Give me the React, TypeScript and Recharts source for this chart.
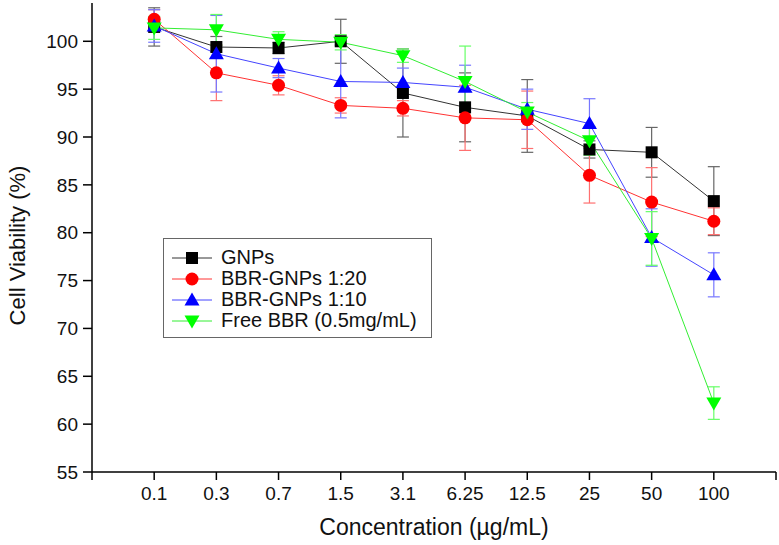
import { LineChart, Line, XAxis, YAxis, ErrorBar, Legend, Label } from "recharts"

// concentration groups (µg/mL), plotted at evenly spaced positions 1..10
const CONCENTRATIONS = ["0.1", "0.3", "0.7", "1.5", "3.1", "6.25", "12.5", "25", "50", "100"]

// mean cell viability (%) and standard deviation per group
const GNPS = [101.5, 99.4, 99.3, 100.0, 94.6, 93.1, 92.2, 88.7, 88.4, 83.3]
const GNPS_SD = [2.0, 1.1, 0.6, 2.3, 4.6, 3.6, 3.8, 0.9, 2.6, 3.6]

const BBR_20 = [102.3, 96.7, 95.4, 93.3, 93.0, 92.0, 91.8, 86.0, 83.2, 81.2]
const BBR_20_SD = [1.0, 2.9, 1.0, 0.8, 0.8, 3.4, 3.0, 2.9, 3.6, 1.4]

const BBR_10 = [101.6, 98.7, 97.2, 95.8, 95.7, 95.2, 92.9, 91.4, 79.5, 75.6]
const BBR_10_SD = [1.7, 4.0, 1.0, 3.8, 1.5, 2.3, 2.1, 2.6, 3.0, 2.3]

const FREE_BBR = [101.4, 101.2, 100.2, 99.9, 98.5, 95.8, 92.6, 89.6, 79.4, 62.2]
const FREE_BBR_SD = [1.2, 1.6, 0.8, 0.8, 0.7, 3.7, 1.0, 1.5, 2.8, 1.7]

const Y_TICKS = [55, 60, 65, 70, 75, 80, 85, 90, 95, 100]
const X_TICKS = [0, 1, 2, 3, 4, 5, 6, 7, 8, 9, 10, 11]

const FONT = "'Liberation Sans', Arial, Helvetica, sans-serif"

type Shape = "square" | "circle" | "up" | "down"

const SERIES: {
  key: string
  name: string
  fill: string
  line: string
  err: string
  shape: Shape
}[] = [
  { key: "gnps", name: "GNPs", fill: "#000000", line: "#333333", err: "#666666", shape: "square" },
  { key: "bbr20", name: "BBR-GNPs 1:20", fill: "#ff0000", line: "#ff3333", err: "#ff7070", shape: "circle" },
  { key: "bbr10", name: "BBR-GNPs 1:10", fill: "#0000ff", line: "#4444ff", err: "#7777ff", shape: "up" },
  { key: "free", name: "Free BBR (0.5mg/mL)", fill: "#00ff00", line: "#33ee33", err: "#66ff66", shape: "down" },
]

const data = CONCENTRATIONS.map((_, i) => ({
  x: i + 1,
  gnps: GNPS[i],
  gnpsSd: GNPS_SD[i],
  bbr20: BBR_20[i],
  bbr20Sd: BBR_20_SD[i],
  bbr10: BBR_10[i],
  bbr10Sd: BBR_10_SD[i],
  free: FREE_BBR[i],
  freeSd: FREE_BBR_SD[i],
}))

function Marker({ shape, cx, cy, fill }: { shape: Shape; cx: number; cy: number; fill: string }) {
  if (cx == null || cy == null) return null
  switch (shape) {
    case "square":
      return <rect x={cx - 6} y={cy - 6} width={12} height={12} fill={fill} />
    case "circle":
      return <circle cx={cx} cy={cy} r={6.5} fill={fill} />
    case "up":
      return <polygon points={`${cx},${cy - 7.5} ${cx + 7.5},${cy + 5.5} ${cx - 7.5},${cy + 5.5}`} fill={fill} />
    default:
      return <polygon points={`${cx},${cy + 7.5} ${cx + 7.5},${cy - 5.5} ${cx - 7.5},${cy - 5.5}`} fill={fill} />
  }
}

function LegendBox() {
  return (
    <div
      style={{
        border: "1px solid #666",
        background: "#fff",
        padding: "8px 14px 6px 8px",
        fontFamily: FONT,
        fontSize: 20,
        color: "#111",
      }}
    >
      {SERIES.map((s) => (
        <div key={s.key} style={{ display: "flex", alignItems: "center", height: 21 }}>
          <svg width={44} height={20} style={{ marginRight: 5 }}>
            <line x1={0} y1={10} x2={40} y2={10} stroke={s.line} strokeWidth={1} />
            <Marker shape={s.shape} cx={20} cy={10} fill={s.fill} />
          </svg>
          <span>{s.name}</span>
        </div>
      ))}
    </div>
  )
}

export default function App() {
  const tickStyle = { fontSize: 19, fill: "#111", fontFamily: FONT }

  return (
    <div style={{ position: "absolute", left: 0, top: 0, width: 779, height: 545, background: "#fff" }}>
      <LineChart width={779} height={545} data={data} margin={{ top: 3, right: 3, bottom: 0, left: 0 }}>
        <XAxis
          type="number"
          dataKey="x"
          domain={[0, 11]}
          ticks={X_TICKS}
          interval={0}
          height={73}
          tickSize={8}
          tickMargin={7}
          tickFormatter={(v: number) => CONCENTRATIONS[v - 1] ?? ""}
          tick={tickStyle}
          stroke="#000"
          axisLine={{ stroke: "#000", strokeWidth: 1.5 }}
          tickLine={{ stroke: "#000", strokeWidth: 1.5 }}
        >
          <Label
            content={({ viewBox }: any) => {
              const cx = viewBox.x + viewBox.width / 2
              const cy = viewBox.y + 55
              return (
                <text x={cx} y={cy} textAnchor="middle" dominantBaseline="central" fontSize={23} fontFamily={FONT} fill="#111">
                  Concentration (µg/mL)
                </text>
              )
            }}
          />
        </XAxis>
        <YAxis
          domain={[55, 104]}
          ticks={Y_TICKS}
          interval={0}
          width={92}
          tickSize={9}
          tickMargin={5}
          tick={tickStyle}
          stroke="#000"
          axisLine={{ stroke: "#000", strokeWidth: 1.5 }}
          tickLine={{ stroke: "#000", strokeWidth: 1.5 }}
        >
          <Label
            content={({ viewBox }: any) => {
              const cx = viewBox.x + 17
              const cy = viewBox.y + viewBox.height / 2 + 8
              return (
                <text
                  x={cx}
                  y={cy}
                  transform={`rotate(-90 ${cx} ${cy})`}
                  textAnchor="middle"
                  dominantBaseline="central"
                  fontSize={22}
                  fontFamily={FONT}
                  fill="#111"
                >
                  Cell Viability (%)
                </text>
              )
            }}
          />
        </YAxis>
        <Legend
          layout="vertical"
          align="center"
          verticalAlign="middle"
          content={() => <LegendBox />}
          wrapperStyle={{ left: 163, top: 238, width: "auto" }}
        />
        {SERIES.map((s) => (
          <Line
            key={s.key}
            dataKey={s.key}
            name={s.name}
            type="linear"
            stroke={s.line}
            strokeWidth={1}
            isAnimationActive={false}
            activeDot={false}
            dot={(p: any) => <Marker key={`${s.key}-${p.index}`} shape={s.shape} cx={p.cx} cy={p.cy} fill={s.fill} />}
          >
            <ErrorBar dataKey={`${s.key}Sd`} direction="y" width={6} stroke={s.err} strokeWidth={1.2} />
          </Line>
        ))}
      </LineChart>
    </div>
  )
}
